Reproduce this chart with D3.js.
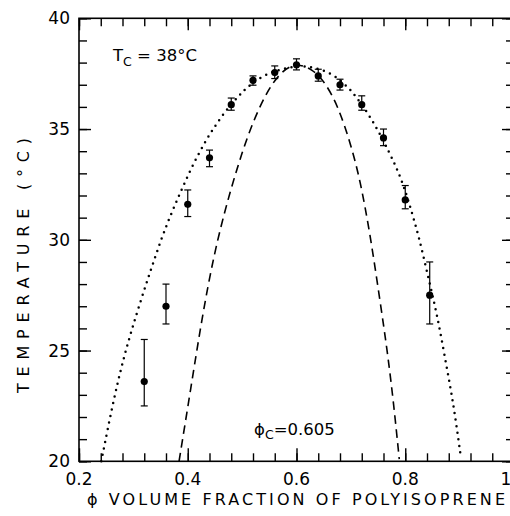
<!DOCTYPE html>
<html>
<head>
<meta charset="utf-8">
<script src="https://cdn.jsdelivr.net/npm/d3@7"></script>
<style>
  body { margin: 0; background: #fff; }
  text { font-family: "DejaVu Sans", "Liberation Sans", sans-serif; fill: #000; }
</style>
</head>
<body>
<div id="chart"></div>
<script>
// measured points: volume fraction, temperature, error bar low / high
var phi   = [0.32, 0.36, 0.40, 0.44, 0.48, 0.52, 0.56, 0.60, 0.64, 0.68, 0.72, 0.76, 0.80, 0.845];
var temp  = [23.6, 27.0, 31.6, 33.7, 36.1, 37.2, 37.55, 37.9, 37.4, 37.0, 36.1, 34.6, 31.8, 27.5];
var errLo = [22.5, 26.2, 31.05, 33.3, 35.85, 36.98, 37.28, 37.67, 37.16, 36.76, 35.85, 34.25, 31.4, 26.2];
var errHi = [25.5, 28.0, 32.25, 34.05, 36.4, 37.4, 37.85, 38.17, 37.7, 37.25, 36.5, 35.0, 32.45, 29.0];

// dotted curve
var dotPhi  = [0.241, 0.262, 0.283, 0.31, 0.343, 0.362, 0.384, 0.4055, 0.4306, 0.45, 0.4704, 0.495, 0.507, 0.536, 0.573, 0.605, 0.631, 0.666, 0.6925, 0.706, 0.7385, 0.772, 0.794, 0.81, 0.8256, 0.842, 0.858, 0.871, 0.884, 0.8925, 0.9023];
var dotT    = [20.0, 22.6, 24.8, 27.0, 29.46, 30.74, 32.0, 33.2, 34.38, 35.13, 35.85, 36.53, 36.83, 37.4, 37.73, 37.85, 37.8, 37.51, 36.94, 36.58, 35.48, 33.9, 32.69, 31.42, 30.1, 28.33, 26.68, 24.95, 23.22, 21.92, 20.18];

// dashed curve
var dashPhi = [0.384, 0.405, 0.425, 0.4484, 0.4747, 0.49, 0.5054, 0.524, 0.5454, 0.57, 0.598, 0.63, 0.653, 0.677, 0.70, 0.717, 0.735, 0.7507, 0.766, 0.778, 0.789];
var dashT   = [20.0, 23.2, 26.3, 29.4, 31.9, 33.15, 34.35, 35.55, 36.68, 37.55, 38.0, 37.7, 37.1, 36.0, 34.3, 32.7, 30.3, 27.73, 25.17, 22.77, 20.1];

var xMajor = [0.2, 0.4, 0.6, 0.8, 1.0];
var yMajor = [20, 25, 30, 35, 40];

var W = 510, H = 516;
var svg = d3.select("#chart").append("svg")
    .attr("width", W).attr("height", H);

var x = d3.scaleLinear().domain([0.2, 1.0]).range([79, 514]);
var y = d3.scaleLinear().domain([20, 40]).range([461.3, 18.3]);

var xMinor = d3.range(0.2, 1.0001, 0.04);
var yMinor = d3.range(20, 40.001, 1);

function fmtX(d) { return d3.format(".1f")(d); }

// frame
svg.append("rect")
   .attr("x", x(0.2)).attr("y", y(40))
   .attr("width", x(1.0) - x(0.2)).attr("height", y(20) - y(40))
   .style("fill", "none").style("stroke", "#000").style("stroke-width", 1.6);

// ticks, inward on all four sides
function ticks(axisFn, scale, vals, len, tr) {
  var g = svg.append("g").attr("transform", tr)
    .call(axisFn(scale).tickValues(vals).tickSize(-len).tickFormat(""));
  g.select(".domain").remove();
  g.selectAll(".tick line").style("stroke", "#000").style("stroke-width", 1.4);
  return g;
}
ticks(d3.axisBottom, x, xMinor, 8, "translate(0," + y(20) + ")");
ticks(d3.axisBottom, x, xMajor, 13, "translate(0," + y(20) + ")");
ticks(d3.axisTop, x, xMinor, 8, "translate(0," + y(40) + ")");
ticks(d3.axisTop, x, xMajor, 12, "translate(0," + y(40) + ")");
ticks(d3.axisLeft, y, yMinor, 8, "translate(" + x(0.2) + ",0)");
ticks(d3.axisLeft, y, yMajor, 12, "translate(" + x(0.2) + ",0)");
ticks(d3.axisRight, y, yMinor, 8, "translate(" + x(1.0) + ",0)");
ticks(d3.axisRight, y, yMajor, 12, "translate(" + x(1.0) + ",0)");

// tick labels
svg.append("g").selectAll("text").data(xMajor).enter().append("text")
   .attr("x", function(d) { return x(d); })
   .attr("y", 485)
   .attr("text-anchor", "middle")
   .style("font-size", "17px")
   .text(fmtX);
svg.append("g").selectAll("text").data(yMajor).enter().append("text")
   .attr("x", 70)
   .attr("y", function(d) { return y(d) + 6; })
   .attr("text-anchor", "end")
   .style("font-size", "17px")
   .text(function(d) { return d; });

// axis titles
svg.append("text")
   .attr("x", 87).attr("y", 505)
   .attr("textLength", 418).attr("lengthAdjust", "spacing")
   .style("font-size", "16px")
   .text("\u03d5 VOLUME FRACTION OF POLYISOPRENE");
svg.append("text")
   .attr("transform", "translate(28.5,393) rotate(-90)")
   .attr("textLength", 255).attr("lengthAdjust", "spacing")
   .style("font-size", "16px")
   .text("TEMPERATURE (\u00b0C)");

// curves
var line = d3.line()
  .x(function(d) { return x(d[0]); })
  .y(function(d) { return y(d[1]); })
  .curve(d3.curveBasis);

svg.append("path")
   .datum(d3.zip(dotPhi, dotT))
   .attr("d", line)
   .style("fill", "none").style("stroke", "#000")
   .style("stroke-width", 2.5).style("stroke-linecap", "round")
   .style("stroke-dasharray", "0 6.6");

svg.append("path")
   .datum(d3.zip(dashPhi, dashT))
   .attr("d", line)
   .style("fill", "none").style("stroke", "#000")
   .style("stroke-width", 1.6)
   .style("stroke-dasharray", "8.5 5.5");

// error bars and points
var pts = d3.range(phi.length).map(function(i) {
  return {p: phi[i], t: temp[i], lo: errLo[i], hi: errHi[i]};
});
var eb = svg.append("g").selectAll("g").data(pts).enter().append("g");
eb.append("line")
  .attr("x1", function(d) { return x(d.p); }).attr("x2", function(d) { return x(d.p); })
  .attr("y1", function(d) { return y(d.lo); }).attr("y2", function(d) { return y(d.hi); });
eb.append("line")
  .attr("x1", function(d) { return x(d.p) - 3.5; }).attr("x2", function(d) { return x(d.p) + 3.5; })
  .attr("y1", function(d) { return y(d.lo); }).attr("y2", function(d) { return y(d.lo); });
eb.append("line")
  .attr("x1", function(d) { return x(d.p) - 3.5; }).attr("x2", function(d) { return x(d.p) + 3.5; })
  .attr("y1", function(d) { return y(d.hi); }).attr("y2", function(d) { return y(d.hi); });
eb.selectAll("line").style("stroke", "#000").style("stroke-width", 1.2);
eb.append("circle")
  .attr("cx", function(d) { return x(d.p); })
  .attr("cy", function(d) { return y(d.t); })
  .attr("r", 3.6)
  .style("fill", "#000");

// annotations
var tc = svg.append("text").attr("x", 113).attr("y", 61).style("font-size", "16.5px");
tc.append("tspan").text("T");
tc.append("tspan").attr("dy", 5).style("font-size", "12.5px").text("C");
tc.append("tspan").attr("dy", -5).text(" = 38\u00b0C");

var pc = svg.append("text").attr("x", 254).attr("y", 435).style("font-size", "16.5px");
pc.append("tspan").text("\u03d5");
pc.append("tspan").attr("dy", 4).style("font-size", "12.5px").text("C");
pc.append("tspan").attr("dy", -4).text("=0.605");
</script>
</body>
</html>
